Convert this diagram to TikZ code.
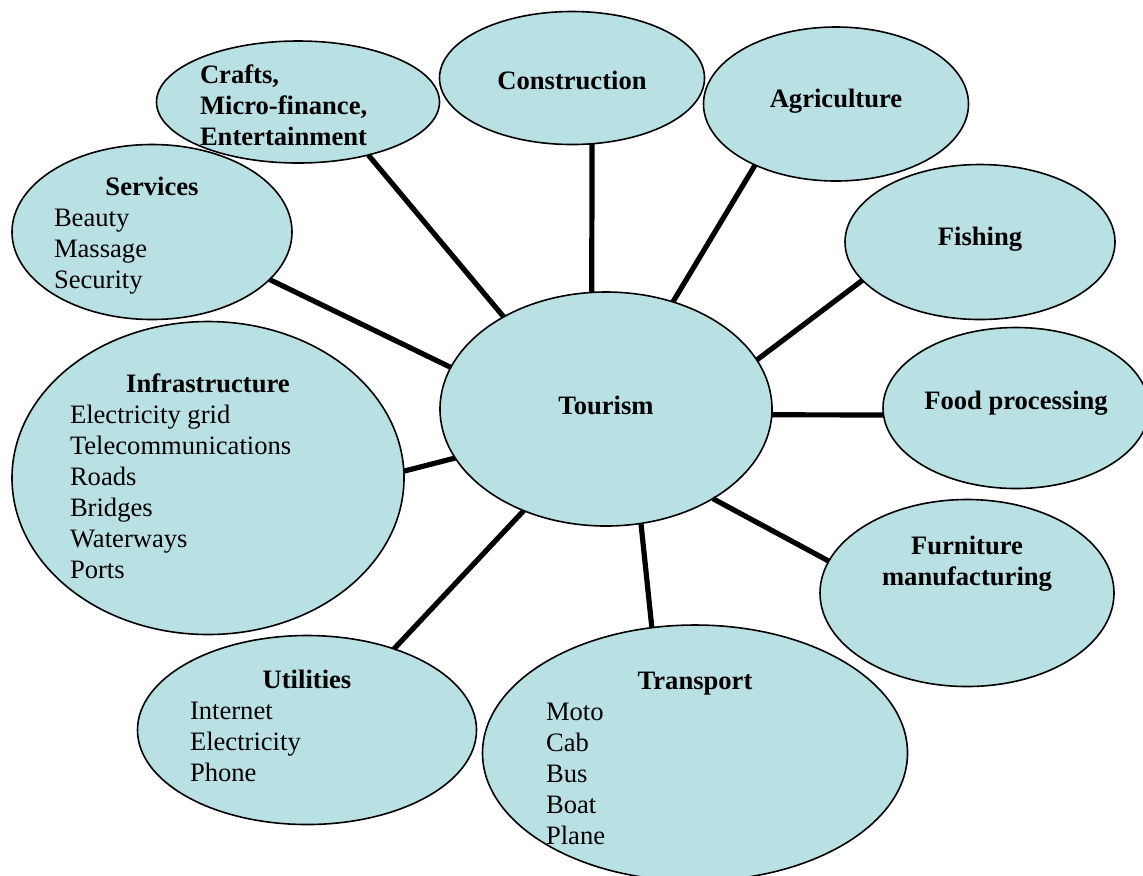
\documentclass[tikz,border=0pt]{standalone}
\usepackage{fontspec}
\setmainfont{Liberation Serif}
\usepackage{tikz}
\usetikzlibrary{shapes.geometric}
\definecolor{sectorfill}{RGB}{185,224,227}
\tikzstyle{sector}=[ellipse,draw=black,line width=0.8pt,fill=sectorfill,
inner sep=-90pt,outer sep=0pt,font=\fontsize{13.3}{15.5}\selectfont]
\tikzstyle{link}=[line width=2.6pt]
\newcommand{\sectorlist}[3]{\parbox{#1}{\centering\textbf{#2}\par\raggedright #3}}
\newcommand{\lift}[2]{\raisebox{#1}[\height][\depth]{#2}}

\begin{document}
\begin{tikzpicture}[x=0.5pt,y=-0.5pt]
    \useasboundingbox (0,0) rectangle (1143,875);
    % centre of the web
    \node (tourism) [sector,minimum width=166pt,minimum height=117pt] at (606,409) {\lift{2pt}{\textbf{Tourism}}};
    % upper ring: single sectors
    \node (crafts) [sector,minimum width=141.5pt,minimum height=61pt] at (298,102)
      {\lift{-1.5pt}{\parbox{98pt}{\raggedright\bfseries Crafts,\\ Micro-finance,\\ Entertainment}}};
    \node (construction) [sector,minimum width=132.5pt,minimum height=66.5pt] at (572,78) {\lift{-1pt}{\textbf{Construction}}};
    \node (agriculture)  [sector,minimum width=132.5pt,minimum height=77pt]   at (836,104) {\lift{1.5pt}{\textbf{Agriculture}}};
    \node (fishing)      [sector,minimum width=135pt,minimum height=77.5pt]   at (980,242) {\lift{1.5pt}{\textbf{Fishing}}};
    \node (food)         [sector,minimum width=133pt,minimum height=80.5pt]   at (1016,408) {\lift{2.5pt}{\textbf{Food processing}}};
    \node (furniture)    [sector,minimum width=147pt,minimum height=93.5pt]   at (967,593)
      {\raisebox{11pt}[0pt][0pt]{\parbox{100pt}{\centering\bfseries Furniture\\ manufacturing}}};
    % sectors with a list of items
    \node (services) [sector,minimum width=140pt,minimum height=87.5pt] at (152,232)
      {\lift{-2pt}{\sectorlist{98pt}{Services}{Beauty\\ Massage\\ Security}}};
    \node (infra) [sector,minimum width=196pt,minimum height=156.5pt] at (208,478)
      {\lift{1pt}{\sectorlist{138pt}{Infrastructure}{Electricity grid\\ Telecommunications\\ Roads\\ Bridges\\ Waterways\\ Ports}}};
    \node (utilities) [sector,minimum width=169.5pt,minimum height=94.5pt] at (307,730)
      {\lift{2pt}{\sectorlist{117pt}{Utilities}{Internet\\ Electricity\\ Phone}}};
    \node (transport) [sector,minimum width=212.5pt,minimum height=128pt] at (695,753)
      {\lift{-2.5pt}{\sectorlist{149pt}{Transport}{Moto\\ Cab\\ Bus\\ Boat\\ Plane}}};
    % spokes from every sector to tourism
    \path[link]
    (crafts.-37)       edge (tourism.138)
    (construction.-73) edge (tourism.97)
    (agriculture.-143) edge (tourism.58)
    (services.-22)     edge (tourism.165)
    (fishing.-162)     edge (tourism.18)
    (food.-177)        edge (tourism.-2)
    (infra.2)          edge (tourism.-162)
    (furniture.167)    edge (tourism.-40)
    (utilities.43)     edge (tourism.-129)
    (transport.109)    edge (tourism.-73);
\end{tikzpicture}
\end{document}
